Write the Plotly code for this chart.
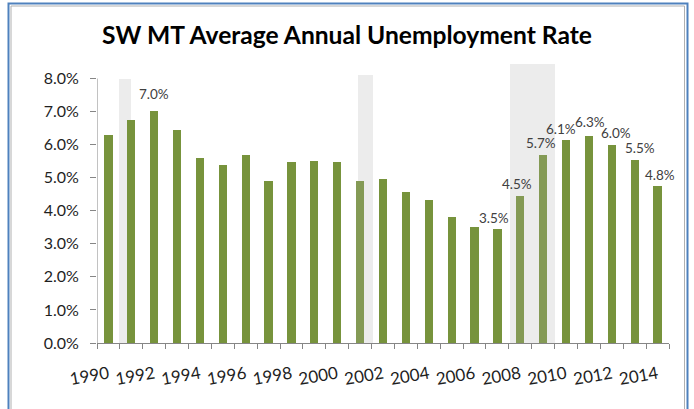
import plotly.graph_objects as go

# ---- data ----
years = list(range(1990, 2015))
rates = [6.28, 6.75, 7.02, 6.45, 5.60, 5.38, 5.68, 4.90, 5.47, 5.50,
         5.47, 4.90, 4.95, 4.57, 4.32, 3.80, 3.50, 3.46, 4.46, 5.68,
         6.14, 6.27, 5.98, 5.54, 4.76]
labeled_years = [1992, 2007, 2008, 2009, 2010, 2011, 2012, 2013, 2014]
recession_start = [1990.45, 2000.90, 2007.55]
recession_end = [1991.00, 2001.55, 2009.50]
recession_top = [8.0, 8.1, 8.45]
y_ticks = [0, 1, 2, 3, 4, 5, 6, 7, 8]
x_label_years = list(range(1990, 2015, 2))

W, H = 694, 409
ML, MR, MT, MB = 97, 25, 62, 66
FONT = "Lato"
GREEN = "#77933c"
FADED = "#849a55"
# small per-label nudges (pixels) to mimic the reference label placement
LABEL_NUDGE = {1992: (0, 7), 2007: (-3, 1), 2008: (-3, 2), 2009: (-2, 2),
               2010: (-5, 1), 2011: (1, 4), 2012: (4, 2), 2013: (5, 2),
               2014: (2, 1)}


def in_recession(y):
    return any(s < y < e for s, e in zip(recession_start, recession_end))


def px_to_paper_x(px):
    return (px - ML) / (W - ML - MR)


def px_to_paper_y(py):
    return 1 - (py - MT) / (H - MT - MB)


fig = go.Figure()

# recession shading (behind)
fig.add_trace(go.Bar(
    x=[(s + e) / 2 for s, e in zip(recession_start, recession_end)],
    y=recession_top,
    width=[e - s for s, e in zip(recession_start, recession_end)],
    marker=dict(color="#ececec", line=dict(width=0)),
    hoverinfo="skip", showlegend=False,
))

fig.add_trace(go.Bar(
    x=years, y=rates, width=0.36,
    marker=dict(color=[FADED if in_recession(y) else GREEN for y in years],
                line=dict(width=0)),
    showlegend=False,
))

for y, v in zip(years, rates):
    if y in labeled_years:
        dx, dy = LABEL_NUDGE.get(y, (0, 2))
        fig.add_annotation(x=y, y=v, text=f"{v:.1f}%", showarrow=False,
                           yanchor="bottom", xshift=dx, yshift=dy,
                           font=dict(family=FONT, size=13.5, color="#404040"))

shapes = [
    # y axis line from 0 to 8
    dict(type="line", xref="x", yref="y", x0=1989.5, x1=1989.5, y0=0, y1=8,
         line=dict(color="#868686", width=1)),
    # chart frame
    dict(type="rect", xref="paper", yref="paper",
         x0=px_to_paper_x(8.5), x1=px_to_paper_x(687.5),
         y0=px_to_paper_y(440), y1=px_to_paper_y(3.5),
         line=dict(color="#4f81bd", width=2), layer="below"),
    dict(type="rect", xref="paper", yref="paper",
         x0=px_to_paper_x(11), x1=px_to_paper_x(684.5),
         y0=px_to_paper_y(440), y1=px_to_paper_y(6),
         line=dict(color="#b0b0b0", width=1), layer="below"),
]

fig.update_layout(
    width=W, height=H,
    margin=dict(l=ML, r=MR, t=MT, b=MB),
    paper_bgcolor="white", plot_bgcolor="white",
    barmode="overlay", bargap=0,
    font=dict(family=FONT, color="#262626"),
    title=dict(text="<b>SW MT Average Annual Unemployment Rate</b>",
               x=347 / W, xref="container", xanchor="center",
               y=1 - 35 / H, yref="container", yanchor="middle",
               font=dict(family=FONT, size=24.6, color="black")),
    shapes=shapes,
    xaxis=dict(range=[1989.5, 2014.5], tickvals=x_label_years,
               ticktext=[str(y) for y in x_label_years],
               ticks="", tickangle=-10, showline=True, linecolor="#868686",
               linewidth=1, showgrid=False, zeroline=False,
               ticklabelstandoff=14,
               tickfont=dict(family=FONT, size=17, color="#1f1f1f"),
               minor=dict(tickvals=[y - 0.5 for y in years] + [2014.5],
                          ticks="outside", ticklen=5, tickcolor="#868686",
                          showgrid=False)),
    yaxis=dict(range=[0, 8.5], tickvals=y_ticks,
               ticktext=[f"{t:.1f}%" for t in y_ticks],
               ticks="outside", ticklen=6, tickcolor="#868686",
               showline=False, showgrid=False, zeroline=False,
               ticklabelstandoff=8,
               tickfont=dict(family=FONT, size=16, color="#1f1f1f")),
)

fig.write_html("out.html",
               config={"displayModeBar": False},
               post_script="document.body.style.margin='0';"
                           "document.body.style.overflow='hidden';")
